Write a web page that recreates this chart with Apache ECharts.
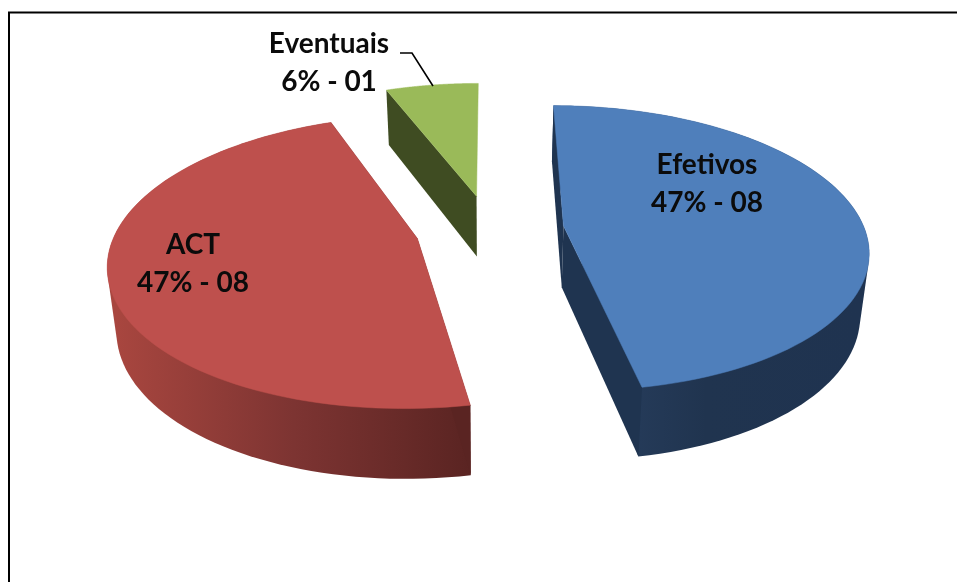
<!DOCTYPE html>
<html>
<head>
<meta charset="utf-8">
<style>html,body{margin:0;padding:0;background:#fff}#c{width:957px;height:582px}</style>
<script src="https://cdn.jsdelivr.net/npm/echarts@6/dist/echarts.min.js"></script>
</head>
<body>
<div id="c"></div>
<script>
var categories = ['Efetivos', 'ACT', 'Eventuais'];
var seriesValues = [8, 8, 1];
var topColors = ['#4f7fbb', '#be504d', '#9aba59'];
var wallLeftColors = ['#2a4264', '#a8463f', '#3f4c22'];
var wallMidColors = ['#20344f', '#7d3432', '#3f4c22'];
var wallRightColors = ['#1f3350', '#5a2422', '#3f4c22'];
var cutColors = ['#1f3450', '#5a2422', '#3f4c22'];
var showEndCut = [true, true, false];
var labelCenters = [[707, 184], [193, 264], [329, 63]];

// Perspective model of the tilted, exploded pie
var view = { cx: 489.7, cy: 229, rx: 301, ry: 140, k: 0.157, explode: 0.247 };
var wall = { xScale: 0.976, yScale: 1.048, yShift: 50.7 };
var total = seriesValues.reduce(function (a, b) { return a + b; }, 0);

function project(wx, wy) {
  var d = 1 + view.k * wy;
  return [view.cx + view.rx * wx / d, view.cy - view.ry * wy / d];
}
function lower(p) {
  return [view.cx + (p[0] - view.cx) * wall.xScale, p[1] * wall.yScale + wall.yShift];
}
function hull(points) {
  var pts = points.slice().sort(function (a, b) { return a[0] - b[0] || a[1] - b[1]; });
  function cross(o, a, b) { return (a[0] - o[0]) * (b[1] - o[1]) - (a[1] - o[1]) * (b[0] - o[0]); }
  function half(list) {
    var h = [];
    list.forEach(function (p) {
      while (h.length >= 2 && cross(h[h.length - 2], h[h.length - 1], p) <= 0) h.pop();
      h.push(p);
    });
    h.pop();
    return h;
  }
  return half(pts).concat(half(pts.slice().reverse()));
}
function sliceGeometry(index) {
  var before = 0;
  for (var i = 0; i < index; i++) before += seriesValues[i];
  var a0 = before / total * 2 * Math.PI;
  var a1 = (before + seriesValues[index]) / total * 2 * Math.PI;
  var mid = (a0 + a1) / 2;
  var ox = view.explode * Math.sin(mid), oy = view.explode * Math.cos(mid);
  var arc = [], steps = 90;
  for (var s = 0; s <= steps; s++) {
    var a = a0 + (a1 - a0) * s / steps;
    arc.push(project(ox + Math.sin(a), oy + Math.cos(a)));
  }
  return { center: project(ox, oy), arc: arc };
}
function renderSlice(params, api) {
  var i = params.dataIndex;
  var g = sliceGeometry(i);
  var lowArc = g.arc.map(lower);
  var end = g.arc[g.arc.length - 1], start = g.arc[0];
  var lowCenter = lower(g.center);
  var xs = lowArc.map(function (p) { return p[0]; });
  var x0 = Math.min.apply(null, xs), x1 = Math.max.apply(null, xs);
  var grad = new echarts.graphic.LinearGradient(x0, 0, x1, 0, [
    { offset: 0, color: wallLeftColors[i] },
    { offset: 0.5, color: wallMidColors[i] },
    { offset: 1, color: wallRightColors[i] }
  ], true);
  var pct = Math.round(api.value(0) / total * 100);
  var cnt = String(api.value(0)).padStart(2, '0');
  return {
    type: 'group',
    children: [
      { type: 'polygon', shape: { points: hull(g.arc.concat(lowArc)) }, style: { fill: grad }, invisible: i === 2 },
      { type: 'polygon', shape: { points: [g.center, start, lower(start), lowCenter] }, style: { fill: cutColors[i] } },
      { type: 'polygon', shape: { points: [g.center, end, lower(end), lowCenter] }, style: { fill: cutColors[i] }, invisible: !showEndCut[i] },
      { type: 'polygon', shape: { points: [g.center].concat(g.arc) }, style: { fill: topColors[i], stroke: topColors[i], lineWidth: 0.5 } },
      { type: 'text', x: labelCenters[i][0], y: labelCenters[i][1], z2: 10, style: {
        text: categories[i] + '\n' + pct + '% - ' + cnt,
        fill: '#0b0b0b', font: '700 28px Lato, "Open Sans", sans-serif',
        lineHeight: 38, align: 'center', verticalAlign: 'middle'
      } }
    ]
  };
}
var chart = echarts.init(document.getElementById('c'), null, { renderer: 'canvas' });
chart.setOption({
  animation: false,
  backgroundColor: '#fff',
  graphic: [
    { type: 'polyline', shape: { points: [[9, 582], [9, 12.5], [957, 12.5]] }, style: { stroke: '#000', lineWidth: 2, fill: null }, silent: true },
    { type: 'polyline', z: 5, shape: { points: [[400, 53], [412, 53], [433, 86]] }, style: { stroke: '#000', lineWidth: 1.6, fill: null }, silent: true }
  ],
  series: [{
    type: 'custom',
    coordinateSystem: 'none',
    renderItem: renderSlice,
    silent: true,
    data: seriesValues.map(function (v, i) { return { name: categories[i], value: [v] }; })
  }]
});
</script>
</body>
</html>
